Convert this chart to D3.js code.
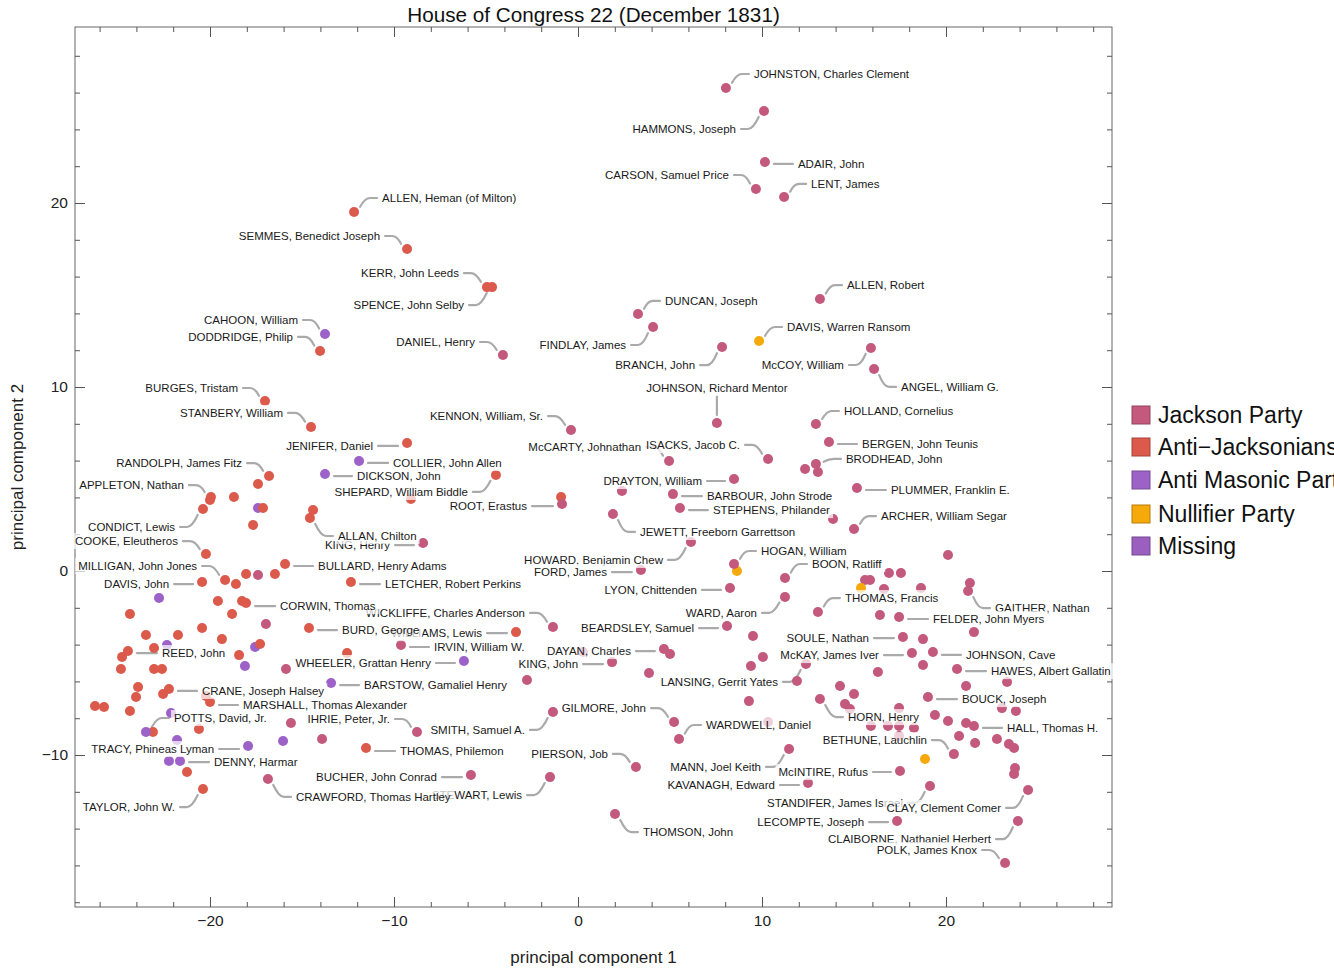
<!DOCTYPE html>
<html><head><meta charset="utf-8">
<script src="https://cdnjs.cloudflare.com/ajax/libs/d3/7.8.5/d3.min.js"></script>
<style>body{margin:0;background:#fff;overflow:hidden}svg{display:block}</style>
</head><body>
<svg id="c" width="1334" height="970"></svg>
<script>
const chartTitle = "House of Congress 22 (December 1831)";
const xLabel = "principal component 1";
const yLabel = "principal component 2";
const partyCodes = ["J","A","M","N","X"];
const partyNames = ["Jackson Party","Anti\u2212Jacksonians","Anti Masonic Party","Nullifier Party","Missing"];
const partyColors = ["#c3597c","#dc5a4b","#9d62c8","#f5a90a","#9b5fbf"];
const xTicks = [-20,-10,0,10,20];
const yTicks = [-10,0,10,20];

// unlabeled members
const otherPC1 = [12.34,13.04,-17.39,2.39,-9.08,-0.92,-20.0,-18.70,-17.39,-17.12,-17.66,-14.40,13.86,20.11,8.64,16.90,17.55,15.60,15.87,16.63,18.64,15.38,21.30,-18.59,-18.04,-17.39,-16.47,-22.77,-19.57,-18.26,-24.35,-18.80,-12.55,5.0,0.27,-2.77,3.86,9.51,10.05,9.40,11.90,9.29,14.24,15.0,14.51,14.78,10.33,-22.23,-23.10,-16.96,-23.48,-21.74,-20.43,-19.35,-23.04,-22.34,-24.78,-17.55,-17.28,-18.42,-18.10,-15.87,-24.84,-23.04,-22.61,-23.91,-24.02,-22.55,-20.22,-26.25,-25.76,-24.35,-22.12,-15.60,-20.60,-21.79,-16.03,-13.91,-21.25,16.41,21.52,18.75,18.75,16.30,23.32,21.09,23.04,23.80,17.45,19.40,20.11,21.09,15.92,16.85,17.45,18.26,17.45,20.71,21.58,22.77,23.42,23.70,18.86,23.75,23.70];
const otherPC2 = [5.54,5.38,4.73,4.35,3.91,4.02,3.86,4.02,3.42,3.42,2.50,3.32,2.83,0.87,0.0,-0.11,-0.11,-0.49,-0.49,-0.98,-0.92,-0.92,-0.65,-0.71,-0.16,-0.22,-0.16,-1.47,-1.63,-1.63,-2.34,-2.34,-4.46,-4.51,-4.40,-5.92,-5.54,-3.53,-4.67,-5.16,-5.98,-7.07,-6.25,-6.68,-7.23,-7.50,-8.21,-10.33,-8.75,-2.88,-3.48,-3.48,-3.10,-3.70,-4.18,-4.02,-4.67,-4.13,-3.97,-4.57,-5.16,-5.33,-5.33,-5.33,-5.33,-6.30,-6.85,-6.68,-6.79,-7.34,-7.39,-7.61,-7.72,-8.26,-8.59,-9.18,-9.24,-9.13,-10.92,-2.39,-3.32,-3.70,-5.11,-5.49,-6.03,-6.25,-7.45,-7.61,-7.45,-7.83,-8.15,-8.26,-8.42,-8.42,-8.42,-8.53,-8.97,-8.97,-9.35,-9.13,-9.40,-9.62,-10.22,-10.71,-11.03];
const otherParty = ["J","J","A","J","A","A","A","A","M","A","A","A","J","J","N","J","J","J","J","J","J","N","J","A","A","J","A","M","A","A","A","A","A","J","J","J","J","J","J","J","J","J","J","J","J","J","J","M","A","J","A","A","A","A","A","M","A","M","A","A","M","J","A","A","A","A","A","A","A","A","A","A","M","J","A","M","M","J","A","J","J","J","J","J","J","J","J","J","J","J","J","J","J","J","J","J","J","J","J","J","J","J","N","J","J"];

// labeled members (drawing order)
const memberNames = ["JOHNSTON, Charles Clement","HAMMONS, Joseph","ADAIR, John","CARSON, Samuel Price","LENT, James","ALLEN, Heman (of Milton)","SEMMES, Benedict Joseph","KERR, John Leeds","SPENCE, John Selby","ALLEN, Robert","DUNCAN, Joseph","CAHOON, William","DODDRIDGE, Philip","FINDLAY, James","DAVIS, Warren Ransom","DANIEL, Henry","BRANCH, John","McCOY, William","ANGEL, William G.","JOHNSON, Richard Mentor","BURGES, Tristam","STANBERY, William","KENNON, William, Sr.","HOLLAND, Cornelius","BERGEN, John Teunis","JENIFER, Daniel","ISACKS, Jacob C.","McCARTY, Johnathan","COLLIER, John Allen","BRODHEAD, John","DICKSON, John","RANDOLPH, James Fitz","DRAYTON, William","SHEPARD, William Biddle","ROOT, Erastus","BARBOUR, John Strode","STEPHENS, Philander","PLUMMER, Franklin E.","APPLETON, Nathan","CONDICT, Lewis","KING, Henry","ALLAN, Chilton","ARCHER, William Segar","HOWARD, Benjamin Chew","JEWETT, Freeborn Garrettson","COOKE, Eleutheros","HOGAN, William","BOON, Ratliff","FORD, James","GAITHER, Nathan","LYON, Chittenden","WARD, Aaron","THOMAS, Francis","MILLIGAN, John Jones","BULLARD, Henry Adams","DAVIS, John","WICKLIFFE, Charles Anderson","CORWIN, Thomas","LETCHER, Robert Perkins","WILLIAMS, Lewis","BURD, George","IRVIN, William W.","BEARDSLEY, Samuel","WHEELER, Grattan Henry","DAYAN, Charles","KING, John","BARSTOW, Gamaliel Henry","LANSING, Gerrit Yates","FELDER, John Myers","SOULE, Nathan","McKAY, James Iver","JOHNSON, Cave","HAWES, Albert Gallatin","BOUCK, Joseph","HORN, Henry","HALL, Thomas H.","BETHUNE, Lauchlin","SMITH, Samuel A.","GILMORE, John","WARDWELL, Daniel","PIERSON, Job","MANN, Joel Keith","McINTIRE, Rufus","KAVANAGH, Edward","STANDIFER, James Israel","CLAY, Clement Comer","LECOMPTE, Joseph","THOMSON, John","CLAIBORNE, Nathaniel Herbert","POLK, James Knox","THOMAS, Philemon","BUCHER, John Conrad","STEWART, Lewis","CRAWFORD, Thomas Hartley","TAYLOR, John W.","DENNY, Harmar","TRACY, Phineas Lyman","POTTS, David, Jr.","CRANE, Joseph Halsey","MARSHALL, Thomas Alexander","IHRIE, Peter, Jr.","REED, John"];
const memberPC1 = [8.04,10.11,10.16,9.67,11.20,-12.17,-9.29,-4.95,-4.67,13.15,3.26,-13.75,-14.02,4.08,9.84,-4.08,7.83,15.92,16.09,7.55,-17.01,-14.51,-0.38,12.93,13.64,-9.29,10.33,4.95,-11.90,12.93,-13.75,-16.79,8.48,-4.46,-0.87,5.16,5.54,15.16,-19.95,-20.38,-8.42,-14.57,15.0,6.14,1.90,-20.22,8.48,11.25,3.42,21.20,8.26,11.25,13.04,-19.18,-15.92,-20.43,-1.36,-18.04,-12.34,-3.37,-14.62,-9.62,8.10,-6.20,4.67,1.85,-13.42,12.39,17.45,17.66,18.15,19.29,20.60,19.02,13.15,21.52,20.43,-1.36,5.22,5.49,3.15,11.47,17.50,12.50,19.13,24.46,17.34,2.01,23.91,23.21,-11.52,-5.82,-1.52,-16.85,-20.38,-21.63,-17.93,-23.48,-22.23,-20.0,-8.75,-24.46];
const memberPC2 = [26.25,25.0,22.23,20.76,20.33,19.51,17.50,15.43,15.43,14.78,13.97,12.88,11.96,13.26,12.50,11.74,12.17,12.12,10.98,8.04,9.24,7.83,7.66,7.99,7.01,6.96,6.09,5.98,5.98,5.82,5.27,5.16,5.0,5.22,3.64,4.18,3.42,4.51,4.02,3.37,1.52,2.88,2.28,1.58,3.10,0.92,0.38,-0.38,0.05,-1.09,-0.92,-1.41,-2.23,-0.49,0.38,-0.60,-3.04,-1.74,-0.60,-3.32,-3.10,-4.02,-2.99,-4.89,-4.24,-4.95,-6.09,-5.05,-2.50,-3.59,-4.46,-4.40,-5.33,-6.85,-6.96,-8.42,-9.95,-7.66,-8.21,-9.13,-10.65,-9.67,-10.87,-11.52,-11.68,-11.90,-13.59,-13.21,-13.59,-15.87,-9.62,-11.09,-11.20,-11.30,-11.85,-10.33,-9.51,-8.75,-6.41,-7.12,-8.75,-4.35];
const memberParty = ["J","J","J","J","J","A","A","A","A","J","J","M","A","J","N","J","J","J","J","J","A","A","J","J","J","A","J","J","M","J","M","A","J","A","J","J","J","J","A","A","J","A","J","J","J","A","J","J","J","J","J","J","J","A","A","A","J","A","A","A","A","J","J","M","J","J","M","J","J","J","J","J","J","J","J","J","J","J","J","J","J","J","J","J","J","J","J","J","J","J","A","J","J","J","A","M","M","M","A","A","J","A"];

// callout placement (pixel offsets from the point: dx, dy, text anchor)
const calloutLayout = [[28,-14,"start"],[-28,18,"end"],[33,2,"start"],[-27,-14,"end"],[27,-13,"start"],[28,-14,"start"],[-27,-13,"end"],[-28,-14,"end"],[-28,18,"end"],[27,-14,"start"],[27,-13,"start"],[-27,-14,"end"],[-27,-14,"end"],[-27,18,"end"],[28,-14,"start"],[-28,-13,"end"],[-27,18,"end"],[-27,17,"end"],[27,18,"start"],[0,-35,"middle"],[-27,-13,"end"],[-28,-14,"end"],[-28,-14,"end"],[28,-13,"start"],[33,2,"start"],[-34,3,"end"],[-28,-14,"end"],[-28,-14,"end"],[34,2,"start"],[30,-5,"start"],[32,2,"start"],[-27,-13,"end"],[-32,2,"end"],[-28,17,"end"],[-35,2,"end"],[34,2,"start"],[33,2,"start"],[34,2,"start"],[-27,-12,"end"],[-28,18,"end"],[-33,2,"end"],[28,18,"start"],[27,-13,"start"],[-28,18,"end"],[27,18,"start"],[-28,-13,"end"],[27,-13,"start"],[27,-14,"start"],[-34,2,"end"],[27,17,"start"],[-33,2,"end"],[-28,16,"end"],[27,-14,"start"],[-28,-14,"end"],[33,2,"start"],[-33,2,"end"],[-28,-14,"end"],[34,3,"start"],[34,2,"start"],[-34,1,"end"],[33,2,"start"],[33,2,"start"],[-33,2,"end"],[-33,2,"end"],[-33,2,"end"],[-34,2,"end"],[33,2,"start"],[-28,18,"end"],[34,2,"start"],[-34,1,"end"],[-33,2,"end"],[33,3,"start"],[34,2,"start"],[34,2,"start"],[28,18,"start"],[33,2,"start"],[-27,-14,"end"],[-28,18,"end"],[-28,-14,"end"],[27,-14,"start"],[-28,-13,"end"],[-28,18,"end"],[-32,1,"end"],[-33,2,"end"],[-27,17,"end"],[-27,18,"end"],[-33,1,"end"],[28,18,"start"],[-27,18,"end"],[-28,-13,"end"],[34,3,"start"],[-34,2,"end"],[-28,18,"end"],[28,18,"start"],[-28,18,"end"],[34,1,"start"],[-34,3,"end"],[28,-14,"start"],[33,2,"start"],[33,3,"start"],[-27,-13,"end"],[34,2,"start"]];

const svg = d3.select("#c");
const plot = {l:75, r:1112, t:27, b:907};
const x = d3.scaleLinear().domain([-27.337, 29.022]).range([plot.l, plot.r]);
const y = d3.scaleLinear().domain([-18.26, 29.565]).range([plot.b, plot.t]);
const color = d3.scaleOrdinal().domain(partyCodes).range(partyColors);
const FONT = "'Liberation Sans', Arial, sans-serif";

// frame
svg.append("rect").attr("x",plot.l).attr("y",plot.t).attr("width",plot.r-plot.l).attr("height",plot.b-plot.t)
  .attr("fill","none").attr("stroke","#666").attr("stroke-width",1);

const minorX = d3.range(-26, 30, 2).filter(v => v % 10 !== 0);
const minorY = d3.range(-18, 30, 2).filter(v => v % 10 !== 0);
const majorXAll = d3.range(-20, 30, 10);
const majorYAll = d3.range(-10, 30, 10);

function styleAxis(g){ g.select(".domain").remove(); g.selectAll("line").attr("stroke","#555"); g.selectAll("text").attr("font-family",FONT).attr("font-size",15.5).attr("fill","#222"); }

svg.append("g").attr("transform",`translate(0,${plot.b})`).call(d3.axisBottom(x).tickValues(xTicks).tickSizeInner(-10).tickSizeOuter(0).tickPadding(8)).call(styleAxis);
svg.append("g").attr("transform",`translate(0,${plot.b})`).call(d3.axisBottom(x).tickValues(minorX).tickSizeInner(-5).tickSizeOuter(0).tickFormat("")).call(styleAxis);
svg.append("g").attr("transform",`translate(0,${plot.t})`).call(d3.axisTop(x).tickValues(majorXAll).tickSizeInner(-10).tickSizeOuter(0).tickFormat("")).call(styleAxis);
svg.append("g").attr("transform",`translate(0,${plot.t})`).call(d3.axisTop(x).tickValues(minorX).tickSizeInner(-5).tickSizeOuter(0).tickFormat("")).call(styleAxis);
svg.append("g").attr("transform",`translate(${plot.l},0)`).call(d3.axisLeft(y).tickValues(yTicks).tickSizeInner(-10).tickSizeOuter(0).tickPadding(7)).call(styleAxis);
svg.append("g").attr("transform",`translate(${plot.l},0)`).call(d3.axisLeft(y).tickValues(minorY).tickSizeInner(-5).tickSizeOuter(0).tickFormat("")).call(styleAxis);
svg.append("g").attr("transform",`translate(${plot.r},0)`).call(d3.axisRight(y).tickValues(majorYAll).tickSizeInner(-10).tickSizeOuter(0).tickFormat("")).call(styleAxis);
svg.append("g").attr("transform",`translate(${plot.r},0)`).call(d3.axisRight(y).tickValues(minorY).tickSizeInner(-5).tickSizeOuter(0).tickFormat("")).call(styleAxis);

// titles
svg.append("text").attr("x",(plot.l+plot.r)/2).attr("y",15).attr("dy","0.35em").attr("text-anchor","middle")
  .attr("font-family",FONT).attr("font-size",20.7).attr("fill","#111").text(chartTitle);
svg.append("text").attr("x",(plot.l+plot.r)/2).attr("y",957).attr("dy","0.35em").attr("text-anchor","middle")
  .attr("font-family",FONT).attr("font-size",17).attr("fill","#222").text(xLabel);
svg.append("text").attr("transform",`translate(17,${(plot.t+plot.b)/2}) rotate(-90)`).attr("dy","0.35em").attr("text-anchor","middle")
  .attr("font-family",FONT).attr("font-size",17).attr("fill","#222").text(yLabel);

const R = 5;
const labeled = memberNames.map((n,i)=>({name:n, x:memberPC1[i], y:memberPC2[i], p:memberParty[i], lay:calloutLayout[i]}));
const others = otherPC1.map((v,i)=>({x:v, y:otherPC2[i], p:otherParty[i]}));

// leaders
const gLead = svg.append("g");
labeled.forEach(d=>{
  const px = x(d.x), py = y(d.y);
  const [dx,dy,anc] = d.lay;
  const lx = px+dx, ly = py+dy;
  let path;
  if (anc === "middle") {
    path = `M${px},${ly+8}L${px},${py-R-3}`;
  } else {
    const s = anc === "start" ? -1 : 1;
    const S = [lx + s*5, ly];
    if (Math.abs(dy) <= 4) {
      path = `M${S[0]},${ly}L${px - s*(R+4)},${ly}`;
    } else {
      const Hx = lx + s*12;
      const vx = Hx-px, vy = ly-py, L = Math.hypot(vx,vy);
      const E = [px + vx/L*(R+3), py + vy/L*(R+3)];
      path = `M${S[0]},${ly}L${Hx},${ly}Q${Hx + s*5},${ly} ${E[0]},${E[1]}`;
    }
  }
  gLead.append("path").attr("d",path).attr("fill","none").attr("stroke","#aaaaaa").attr("stroke-width",2.2).attr("stroke-linecap","round");
});

// points
const gPts = svg.append("g");
gPts.selectAll("circle.o").data(others).join("circle").attr("class","o")
  .attr("cx",d=>x(d.x)).attr("cy",d=>y(d.y)).attr("r",R).attr("fill",d=>color(d.p));
gPts.selectAll("circle.l").data(labeled).join("circle").attr("class","l")
  .attr("cx",d=>x(d.x)).attr("cy",d=>y(d.y)).attr("r",R).attr("fill",d=>color(d.p));

// labels with translucent backgrounds
const gLab = svg.append("g");
labeled.forEach(d=>{
  const px = x(d.x), py = y(d.y);
  const [dx,dy,anc] = d.lay;
  const g = gLab.append("g");
  const bg = g.append("rect");
  const t = g.append("text").attr("x",px+dx).attr("y",py+dy).attr("dy","0.35em").attr("text-anchor",anc)
    .attr("font-family",FONT).attr("font-size",11.5).attr("fill","#1a1a1a").text(d.name);
  const bb = t.node().getBBox();
  bg.attr("x",bb.x-3).attr("y",bb.y-2).attr("width",bb.width+6).attr("height",bb.height+4).attr("fill","#fff").attr("fill-opacity",0.72);
});

// legend
const lg = svg.append("g").attr("transform","translate(1132,415)");
partyNames.forEach((n,i)=>{
  const yy = [0,32,65,99,131][i];
  lg.append("rect").attr("x",0).attr("y",yy-9).attr("width",18).attr("height",18)
    .attr("fill",partyColors[i]).attr("stroke",d3.color(partyColors[i]).darker(0.8)).attr("stroke-width",1);
  lg.append("text").attr("x",26).attr("y",yy).attr("dy","0.35em").attr("font-family",FONT).attr("font-size",23).attr("fill","#111").text(n);
});
</script>
</body></html>
